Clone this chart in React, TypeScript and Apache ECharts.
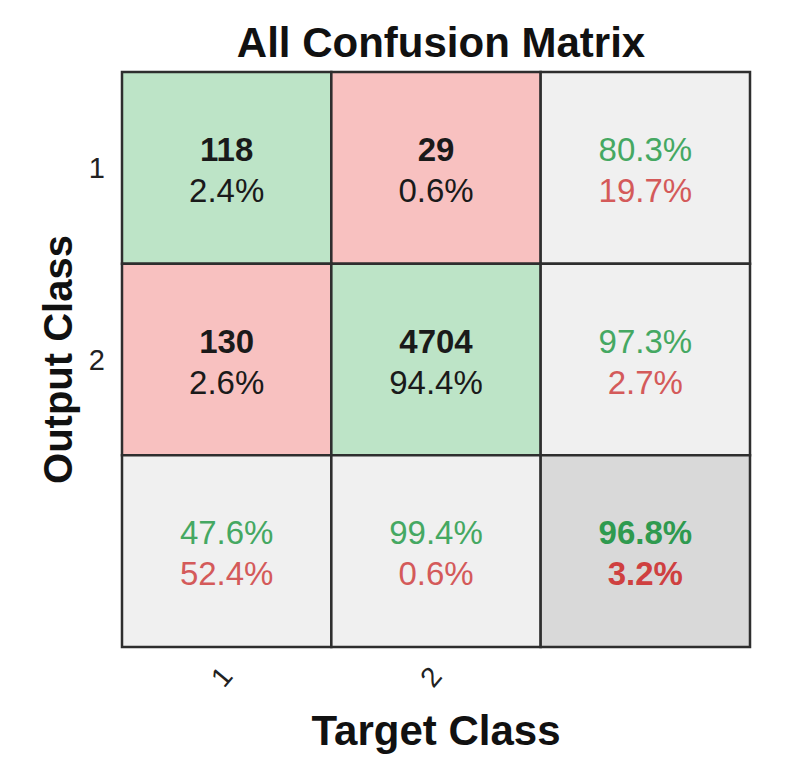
import React, { useEffect, useRef } from "react";
import * as echarts from "echarts";

const titleText = "All Confusion Matrix";
const targetClasses = ["1", "2", ""];
const outputClasses = ["1", "2", ""];
// counts[outputRow][targetCol]
const counts = [
  [118, 29],
  [130, 4704],
];
const countPct = [
  [2.4, 0.6],
  [2.6, 94.4],
];
const rowCorrect = [80.3, 97.3];
const rowWrong = [19.7, 2.7];
const colCorrect = [47.6, 99.4];
const colWrong = [52.4, 0.6];
const overallCorrect = 96.8;
const overallWrong = 3.2;

const GREEN_CELL = "#bde4c7";
const RED_CELL = "#f8c1c0";
const GREY_CELL = "#f0f0f0";
const DARK_CELL = "#d9d9d9";
const GREEN_TXT = "#45a862";
const RED_TXT = "#d45a5a";
const FONT = "'Liberation Sans', Arial, sans-serif";

type Cell = { x: number; y: number; fill: string; text: string };

function buildCells(): Cell[] {
  const cells: Cell[] = [];
  const n = counts.length;
  for (let r = 0; r < n; r++) {
    for (let c = 0; c < n; c++) {
      cells.push({
        x: c,
        y: r,
        fill: r === c ? GREEN_CELL : RED_CELL,
        text: `{b|${counts[r][c]}}\n{n|${countPct[r][c].toFixed(1)}%}`,
      });
    }
    cells.push({
      x: n,
      y: r,
      fill: GREY_CELL,
      text: `{g|${rowCorrect[r].toFixed(1)}%}\n{r|${rowWrong[r].toFixed(1)}%}`,
    });
  }
  for (let c = 0; c < n; c++) {
    cells.push({
      x: c,
      y: n,
      fill: GREY_CELL,
      text: `{g|${colCorrect[c].toFixed(1)}%}\n{r|${colWrong[c].toFixed(1)}%}`,
    });
  }
  cells.push({
    x: n,
    y: n,
    fill: DARK_CELL,
    text: `{gb|${overallCorrect.toFixed(1)}%}\n{rb|${overallWrong.toFixed(1)}%}`,
  });
  return cells;
}

export default function App() {
  const ref = useRef<HTMLDivElement>(null);
  useEffect(() => {
    if (!ref.current) return;
    const chart = echarts.init(ref.current, undefined, { renderer: "svg" });
    const cells = buildCells();
    const fs = 33;
    const lh = 41;
    const rich = {
      b: { fontFamily: FONT, fontSize: fs, fontWeight: "bold", fill: "#1a1a1a", lineHeight: lh },
      n: { fontFamily: FONT, fontSize: fs, fill: "#1a1a1a", lineHeight: lh },
      g: { fontFamily: FONT, fontSize: fs, fill: GREEN_TXT, lineHeight: lh },
      r: { fontFamily: FONT, fontSize: fs, fill: RED_TXT, lineHeight: lh },
      gb: { fontFamily: FONT, fontSize: fs, fontWeight: "bold", fill: "#2f9a4f", lineHeight: lh },
      rb: { fontFamily: FONT, fontSize: fs, fontWeight: "bold", fill: "#cf4040", lineHeight: lh },
    };
    chart.setOption({
      animation: false,
      backgroundColor: "#ffffff",
      title: {
        text: titleText,
        left: 436,
        top: 16,
        textAlign: "center",
        textStyle: { fontFamily: FONT, fontSize: 42, fontWeight: "bold", color: "#111" },
      },
      grid: { left: 122, top: 72, width: 628, height: 575 },
      xAxis: {
        type: "category",
        data: targetClasses,
        name: "Target Class",
        nameLocation: "middle",
        nameGap: 62,
        nameTextStyle: { fontFamily: FONT, fontSize: 42, fontWeight: "bold", color: "#111" },
        axisLine: { show: false },
        axisTick: { show: false },
        splitLine: { show: false },
        axisLabel: {
          rotate: 50,
          margin: 24,
          padding: [0, 0, 0, 14],
          fontFamily: FONT,
          fontSize: 28,
          color: "#222",
        },
      },
      yAxis: {
        type: "category",
        data: outputClasses,
        inverse: true,
        name: "Output Class",
        nameLocation: "middle",
        nameGap: 42,
        nameRotate: 90,
        nameTextStyle: { fontFamily: FONT, fontSize: 40, fontWeight: "bold", color: "#111" },
        axisLine: { show: false },
        axisTick: { show: false },
        splitLine: { show: false },
        axisLabel: { margin: 17, fontFamily: FONT, fontSize: 29, color: "#222" },
      },
      series: [
        {
          type: "custom",
          coordinateSystem: "cartesian2d",
          encode: { x: 0, y: 1 },
          data: cells.map((c) => [c.x, c.y]),
          renderItem: (params: any, api: any) => {
            const cell = cells[params.dataIndex];
            const p = api.coord([api.value(0), api.value(1)]);
            const s = api.size([1, 1]);
            return {
              type: "group",
              children: [
                {
                  type: "rect",
                  shape: { x: p[0] - s[0] / 2, y: p[1] - s[1] / 2, width: s[0], height: s[1] },
                  style: { fill: cell.fill, stroke: "#2e2e2e", lineWidth: 2.5 },
                },
                {
                  type: "text",
                  x: p[0],
                  y: p[1] + 2,
                  style: {
                    text: cell.text,
                    rich,
                    align: "center",
                    verticalAlign: "middle",
                  },
                },
              ],
            };
          },
        },
      ],
    });
    return () => chart.dispose();
  }, []);
  return (
    <div
      ref={ref}
      style={{ position: "fixed", left: 0, top: 0, width: 797, height: 767 }}
    />
  );
}
